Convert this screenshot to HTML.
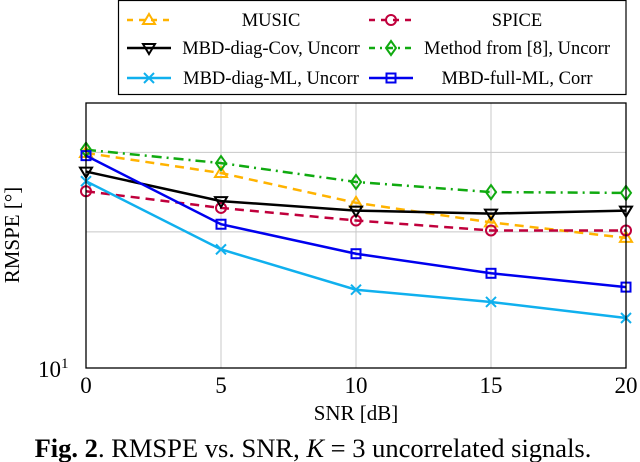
<!DOCTYPE html>
<html><head><meta charset="utf-8">
<style>
body{margin:0;background:#fff;}
svg{display:block;font-family:"Liberation Serif",serif;}
</style></head>
<body>
<svg id="chart" width="640" height="462" viewBox="0 0 640 462">
  <rect x="0" y="0" width="640" height="462" fill="#fff"/>
  <g id="grid"></g>
  <g id="series"></g>
  <rect x="86" y="103" width="540" height="265" fill="none" stroke="#000" stroke-width="1.3"/>
  <g id="ticks"></g>
  <text x="356" y="420" text-anchor="middle" font-size="21">SNR [dB]</text>
  <text transform="translate(19,235) rotate(-90)" text-anchor="middle" font-size="21">RMSPE [°]</text>
  <text x="313" y="457" text-anchor="middle" font-size="26.5"><tspan font-weight="bold">Fig. 2</tspan>. RMSPE vs. SNR, <tspan font-style="italic">K</tspan> = 3 uncorrelated signals.</text>
  <g id="legend">
    <rect x="118.5" y="0.5" width="507.5" height="94" fill="#fff" stroke="#000" stroke-width="1.2"/>
  </g>
</svg>
<script>
const snr = [0, 5, 10, 15, 20];
const xTicks = [0, 5, 10, 15, 20];
const music = [29.9, 27.0, 23.2, 21.0, 19.4];
const spice = [24.6, 22.6, 21.2, 20.15, 20.15];
const mbdDiagCov = [27.2, 23.4, 22.3, 21.96, 22.3];
const method8 = [30.4, 28.4, 25.8, 24.5, 24.4];
const mbdDiagML = [25.9, 18.3, 14.9, 14.0, 12.9];
const mbdFullML = [29.5, 20.8, 17.9, 16.2, 15.1];
const seriesNames = ["MUSIC","SPICE","MBD-diag-Cov, Uncorr","Method from [8], Uncorr","MBD-diag-ML, Uncorr","MBD-full-ML, Corr"];

const NS="http://www.w3.org/2000/svg";
const X0=86,X1=626,YB=368,DEC=452;
function xs(v){return X0+(v-0)/(20-0)*(X1-X0);}
function ys(v){return YB-(Math.log10(v)-1)*DEC;}
function mk(tag,attrs,parent){const e=document.createElementNS(NS,tag);for(const k in attrs)e.setAttribute(k,attrs[k]);parent.appendChild(e);return e;}

const grid=document.getElementById('grid');
xTicks.forEach((t,i)=>{
  if(i>0&&i<xTicks.length-1){
    const l=mk('line',{x1:xs(t),x2:xs(t),y1:103,y2:YB,stroke:'#c8c8c8','stroke-width':1},grid);
    
    
  }
});
[20,30].forEach(v=>{
  const l=mk('line',{x1:X0,x2:X1,y1:ys(v),y2:ys(v),stroke:'#c8c8c8','stroke-width':1},grid);
  
  
});
const ticks=document.getElementById('ticks');
xTicks.forEach(t=>{
  const tx=mk('text',{x:xs(t),y:393,'text-anchor':'middle','font-size':23},ticks);
  tx.textContent=t;
  
  
});
const yl=mk('text',{x:38,y:377,'font-size':23},ticks);
yl.innerHTML='10<tspan dy="-9" font-size="15">1</tspan>';



function marker(g,type,x,y,color){
  let e;
  if(type==='tri'){e=mk('path',{d:`M${x},${y-6}L${x+6},${y+4}L${x-6},${y+4}Z`,fill:'none',stroke:color,'stroke-width':2},g);}
  else if(type==='tridown'){e=mk('path',{d:`M${x},${y+6}L${x+6},${y-4}L${x-6},${y-4}Z`,fill:'none',stroke:color,'stroke-width':2},g);}
  else if(type==='circ'){e=mk('circle',{cx:x,cy:y,r:5,fill:'none',stroke:color,'stroke-width':2},g);}
  else if(type==='diam'){e=mk('path',{d:`M${x},${y-7}L${x+5},${y}L${x},${y+7}L${x-5},${y}Z`,fill:'none',stroke:color,'stroke-width':2},g);}
  else if(type==='x'){e=mk('path',{d:`M${x-5},${y-5}L${x+5},${y+5}M${x-5},${y+5}L${x+5},${y-5}`,fill:'none',stroke:color,'stroke-width':2},g);}
  else {e=mk('rect',{x:x-4.5,y:y-4.5,width:9,height:9,fill:'none',stroke:color,'stroke-width':2},g);}
  return e;
}
const defs=[
  {data:music,color:'#ffb300',dash:'9,6',m:'tri',key:'music'},
  {data:spice,color:'#c0003c',dash:'9,6',m:'circ',key:'spice'},
  {data:method8,color:'#10aa10',dash:'10,5,2,5',m:'diam',key:'method8'},
  {data:mbdDiagCov,color:'#000000',dash:'',m:'tridown',key:'mbd-diag-cov'},
  {data:mbdFullML,color:'#0000ee',dash:'',m:'sq',key:'mbd-full-ml'},
  {data:mbdDiagML,color:'#10b0ee',dash:'',m:'x',key:'mbd-diag-ml'},
];
const sg=document.getElementById('series');
defs.forEach(d=>{
  const g=mk('g',{},sg);
  
  
  const pts=d.data.map((v,i)=>xs(snr[i])+','+ys(v)).join(' ');
  const pl=mk('polyline',{points:pts,fill:'none',stroke:d.color,'stroke-width':2.5,'stroke-dasharray':d.dash},g);
  
  
  d.data.forEach((v,i)=>{
    const m=marker(g,d.m,xs(snr[i]),ys(v),d.color);
    
    
  });
});

const lg=document.getElementById('legend');
const legendItems=[
  {name:seriesNames[0],color:'#ffb300',dash:'6,6',m:'tri',col:0,row:0},
  {name:seriesNames[1],color:'#c0003c',dash:'6,6',m:'circ',col:1,row:0},
  {name:seriesNames[2],color:'#000000',dash:'',m:'tridown',col:0,row:1},
  {name:seriesNames[3],color:'#10aa10',dash:'6,5,2,5',m:'diam',col:1,row:1},
  {name:seriesNames[4],color:'#10b0ee',dash:'',m:'x',col:0,row:2},
  {name:seriesNames[5],color:'#0000ee',dash:'',m:'sq',col:1,row:2},
];
const colMark=[149,391],colText=[271,517],rowY=[20,48,78];
legendItems.forEach(it=>{
  const g=mk('g',{},lg);
  
  
  const cx=colMark[it.col],cy=rowY[it.row];
  mk('line',{x1:cx-22,x2:cx+22,y1:cy,y2:cy,stroke:it.color,'stroke-width':2.5,'stroke-dasharray':it.dash},g);
  marker(g,it.m,cx,cy,it.color);
  const t=mk('text',{x:colText[it.col],y:cy+6,'text-anchor':'middle','font-size':18.5},g);
  t.textContent=it.name;
});
</script>
</body></html>
